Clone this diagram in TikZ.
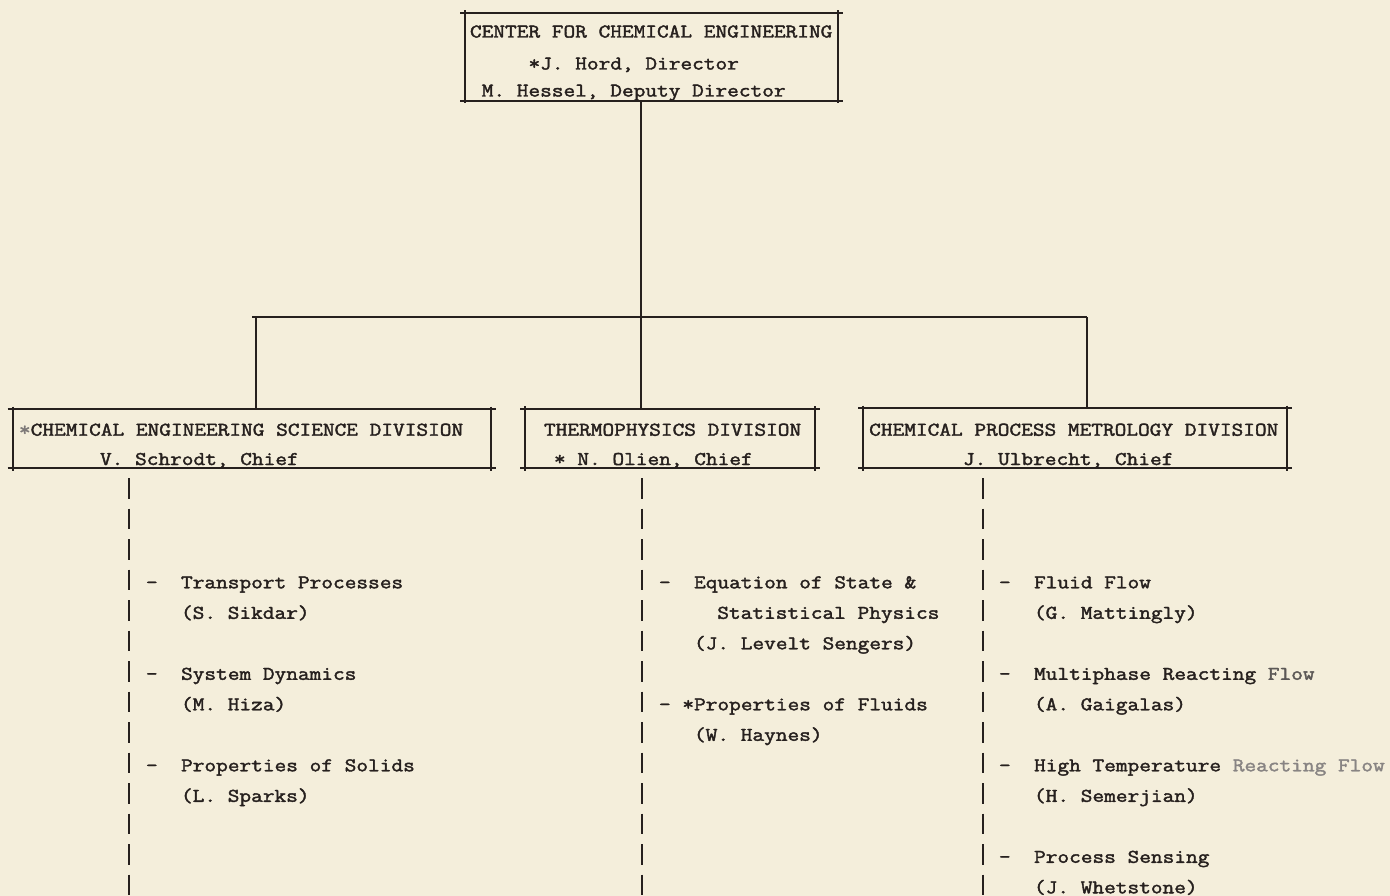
\documentclass[tikz,border=0pt]{standalone}
\usepackage{fontspec}
\newfontfamily\tw[FakeStretch=1.17,FakeBold=2]{Latin Modern Mono}
\definecolor{paper}{RGB}{244,238,219}
\definecolor{ink}{RGB}{38,32,30}
\tikzset{
  frame/.style={rectangle, draw=none, inner sep=0pt, outer sep=0pt},
  boxline/.style={draw=ink, line width=2pt},
  conn/.style={draw=ink, line width=2.3pt},
  bars/.style={draw=ink, line width=2pt, dash pattern=on 20.5pt off 10pt},
  txt/.style={anchor=base west, inner sep=0pt, outer sep=0pt, text=ink,
    font=\tw\fontsize{19.4}{23}\selectfont},
}
\begin{document}
\begin{tikzpicture}[x=1pt,y=-1pt]
\fill[paper] (0,0) rectangle (1390,896);
\useasboundingbox (0,0) rectangle (1390,896);

% boxes
\node[frame, minimum width=373pt, minimum height=88pt] (ctr) at (651.5,57) {};
\node[frame, minimum width=478pt, minimum height=59pt] (d1) at (251.7,438.5) {};
\node[frame, minimum width=290pt, minimum height=59.5pt] (d2) at (670,438.3) {};
\node[frame, minimum width=424pt, minimum height=60pt] (d3) at (1075,438) {};
\foreach \n in {ctr,d1,d2,d3} {
  \draw[boxline] ([xshift=-5pt]\n.north west) -- ([xshift=5pt]\n.north east);
  \draw[boxline] ([xshift=-5pt]\n.south west) -- ([xshift=5pt]\n.south east);
  \draw[boxline] ([yshift=2.5pt]\n.north west) -- ([yshift=-2.5pt]\n.south west);
  \draw[boxline] ([yshift=2.5pt]\n.north east) -- ([yshift=-2.5pt]\n.south east);
}

% box texts
\node[txt] (c1) at (470,37.5) {CENTER FOR CHEMICAL ENGINEERING};
\node[txt] (c2) at (528.5,69.5) {*J. Hord, Director};
\node[txt] (c3) at (481.7,96.5) {M. Hessel, Deputy Director};

\node[txt] (d1a) at (19,435.7) {\textcolor{ink!60}{*}CHEMICAL ENGINEERING SCIENCE DIVISION};
\node[txt] (d1b) at (100,465) {V. Schrodt, Chief};
\node[txt] (d2a) at (544,435.7) {THERMOPHYSICS DIVISION};
\node[txt] (d2b) at (554,465) {* N. Olien, Chief};
\node[txt] (d3a) at (869.2,435.7) {CHEMICAL PROCESS METROLOGY DIVISION};
\node[txt] (d3b) at (963,465) {J. Ulbrecht, Chief};

% connectors
\coordinate (jl) at (256,317);
\coordinate (jt) at (641,317);
\coordinate (jr) at (1087,317);
\draw[conn] (ctr.south -| jt) -- (jt);
\draw[conn] ([xshift=-4pt]jl) -- (jr);
\draw[conn] (jl) -- (jl |- d1.north);
\draw[conn] (jt) -- (jt |- d2.north);
\draw[conn] (jr) -- (jr |- d3.north);

% typed vertical bars
\coordinate (b1) at (129,478);
\coordinate (e1) at (129,896);
\coordinate (b2) at (642,478);
\coordinate (e2) at (642,896);
\coordinate (b3) at (983,478);
\coordinate (e3) at (983,896);
\draw[bars] (b1) -- (e1);
\draw[bars] (b2) -- (e2);
\draw[bars] (b3) -- (e3);

% column 1
\node[txt] (t1a) at (146,588.3) {-\ \ Transport Processes};
\node[txt] (t1b) at (181,618.8) {(S. Sikdar)};
\node[txt] (t2a) at (146,679.8) {-\ \ System Dynamics};
\node[txt] (t2b) at (181,710.3) {(M. Hiza)};
\node[txt] (t3a) at (146,771.3) {-\ \ Properties of Solids};
\node[txt] (t3b) at (181,801.8) {(L. Sparks)};

% column 2
\node[txt] (u1a) at (659,588.3) {-\ \ Equation of State \&};
\node[txt] (u1b) at (717.3,618.8) {Statistical Physics};
\node[txt] (u1c) at (694,649.3) {(J. Levelt Sengers)};
\node[txt] (u2a) at (659,710.3) {-\ *Properties of Fluids};
\node[txt] (u2b) at (694,740.8) {(W. Haynes)};

% column 3
\node[txt] (v1a) at (999,588.3) {-\ \ Fluid Flow};
\node[txt] (v1b) at (1034,618.8) {(G. Mattingly)};
\node[txt] (v2a) at (999,679.8) {-\ \ Multiphase Reacting \textcolor{ink!75}{Flow}};
\node[txt] (v2b) at (1034,710.3) {(A. Gaigalas)};
\node[txt] (v3a) at (999,771.3) {-\ \ High Temperature \textcolor{ink!55}{Reacting Flow}};
\node[txt] (v3b) at (1034,801.8) {(H. Semerjian)};
\node[txt] (v4a) at (999,862.8) {-\ \ Process Sensing};
\node[txt] (v4b) at (1034,893.3) {(J. Whetstone)};
\end{tikzpicture}
\end{document}
